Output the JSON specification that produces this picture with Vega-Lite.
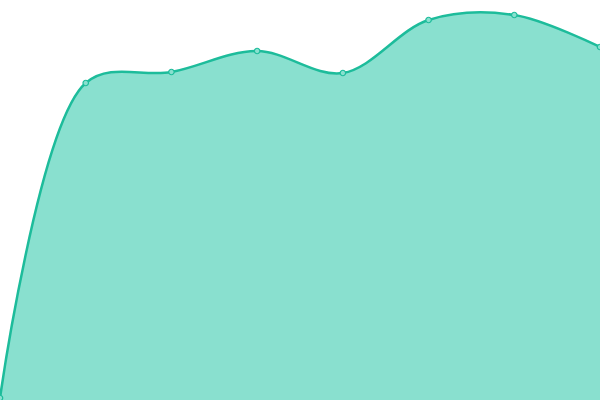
{
  "$schema": "https://vega.github.io/schema/vega-lite/v6.json",
  "width": 600,
  "height": 400,
  "autosize": {"type": "none"},
  "padding": 0,
  "background": "white",
  "config": {"view": {"stroke": null}},
  "data": {"values": [
    {"i": 0, "v": 2},
    {"i": 1, "v": 317},
    {"i": 2, "v": 328},
    {"i": 3, "v": 349},
    {"i": 4, "v": 327},
    {"i": 5, "v": 380},
    {"i": 6, "v": 385},
    {"i": 7, "v": 353}
  ]},
  "encoding": {
    "x": {"field": "i", "type": "quantitative", "scale": {"domain": [0, 7], "nice": false, "zero": false}, "axis": null},
    "y": {"field": "v", "type": "quantitative", "scale": {"domain": [0, 400], "nice": false}, "axis": null}
  },
  "layer": [
    {"mark": {"type": "area", "interpolate": "catmull-rom", "color": "#89e0cf", "opacity": 1}},
    {"mark": {"type": "line", "interpolate": "catmull-rom", "color": "#1dbc9b", "strokeWidth": 2.5}},
    {"mark": {"type": "point", "filled": true, "size": 30, "fill": "#89e0cf", "stroke": "#1dbc9b", "strokeWidth": 1.2, "opacity": 1}}
  ]
}
